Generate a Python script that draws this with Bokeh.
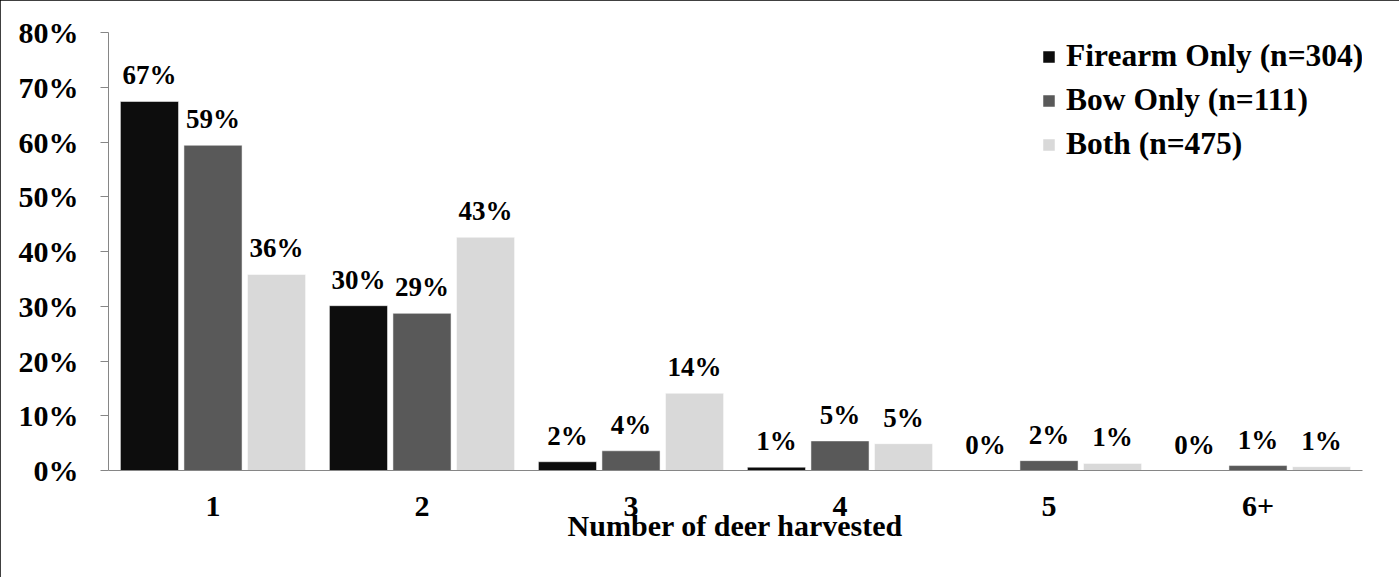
from bokeh.plotting import figure
from bokeh.models import ColumnDataSource, FactorRange, Legend, LegendItem, NumeralTickFormatter, Range1d
from bokeh.transform import dodge
from bokeh.core.properties import value
from bokeh.embed import file_html
from bokeh.resources import INLINE

categories = ["1", "2", "3", "4", "5", "6+"]
series_names = ["Firearm Only (n=304)", "Bow Only (n=111)", "Both (n=475)"]
firearm = [0.674, 0.301, 0.016, 0.006, 0.0, 0.0]
bow = [0.594, 0.287, 0.036, 0.054, 0.018, 0.009]
both = [0.358, 0.426, 0.141, 0.049, 0.013, 0.007]
firearm_labels = ["67%", "30%", "2%", "1%", "0%", "0%"]
bow_labels = ["59%", "29%", "4%", "5%", "2%", "1%"]
both_labels = ["36%", "43%", "14%", "5%", "1%", "1%"]
y_ticks = [0, 0.1, 0.2, 0.3, 0.4, 0.5, 0.6, 0.7, 0.8]

colors = ["#0d0d0d", "#595959", "#d9d9d9"]
FONT = "Liberation Serif"

source = ColumnDataSource(data=dict(
    cat=categories,
    firearm=firearm, bow=bow, both=both,
    firearm_lbl=firearm_labels, bow_lbl=bow_labels, both_lbl=both_labels,
))

p = figure(
    x_range=FactorRange(*categories), y_range=Range1d(0, 0.8),
    width=1399, height=577, output_backend="svg", toolbar_location=None,
    min_border_left=108, min_border_right=37, min_border_top=32, min_border_bottom=107,
)
p.styles = {"outline": "1px solid black", "outline-offset": "-1px"}
p.outline_line_color = None
p.background_fill_color = "white"
p.border_fill_color = "white"
p.xgrid.grid_line_color = None
p.ygrid.grid_line_color = None

offsets = [-0.304, 0.0, 0.304]
keys = ["firearm", "bow", "both"]
renderers = []
for key, off, col in zip(keys, offsets, colors):
    r = p.vbar(x=dodge("cat", off, range=p.x_range), top=key, width=0.278,
               source=source, fill_color=col, line_color="white", line_width=0.5)
    renderers.append(r)
    p.text(x=dodge("cat", off, range=p.x_range), y=key, text=key + "_lbl", source=source,
           text_align="center", text_baseline="alphabetic", y_offset=-26,
           text_font=value(FONT), text_font_style="bold", text_font_size="27px",
           text_color="black")

legend = Legend(items=[LegendItem(label=n, renderers=[r]) for n, r in zip(series_names, renderers)],
                location=(933, 308))
legend.label_text_font = FONT
legend.label_text_font_style = "bold"
legend.label_text_font_size = "31.5px"
legend.label_text_color = "black"
legend.label_height = 35
legend.glyph_width = 15
legend.glyph_height = 15
legend.label_standoff = 10
legend.spacing = 8
legend.padding = 0
legend.margin = 0
legend.border_line_color = None
legend.background_fill_alpha = 0
p.add_layout(legend)

p.yaxis.ticker = y_ticks
p.yaxis.formatter = NumeralTickFormatter(format="0%")
p.yaxis.major_label_text_font = FONT
p.yaxis.major_label_text_font_style = "bold"
p.yaxis.major_label_text_font_size = "30px"
p.yaxis.major_label_text_color = "black"
p.yaxis.axis_line_color = "#868686"
p.yaxis.major_tick_line_color = "#868686"
p.yaxis.major_tick_in = 0
p.yaxis.major_tick_out = 8
p.yaxis.minor_tick_line_color = None
p.yaxis.major_label_standoff = 22

p.xaxis.axis_label = "Number of deer harvested"
p.xaxis.axis_label_text_font = FONT
p.xaxis.axis_label_text_font_style = "bold"
p.xaxis.axis_label_text_font_size = "30px"
p.xaxis.axis_label_text_color = "black"
p.xaxis.axis_label_standoff = -10
p.xaxis.major_label_text_font = FONT
p.xaxis.major_label_text_font_style = "bold"
p.xaxis.major_label_text_font_size = "30px"
p.xaxis.major_label_text_color = "black"
p.xaxis.axis_line_color = "#868686"
p.xaxis.major_tick_line_color = None
p.xaxis.minor_tick_line_color = None
p.xaxis.major_label_standoff = 20

open("out.html", "w").write(file_html(p, INLINE))
